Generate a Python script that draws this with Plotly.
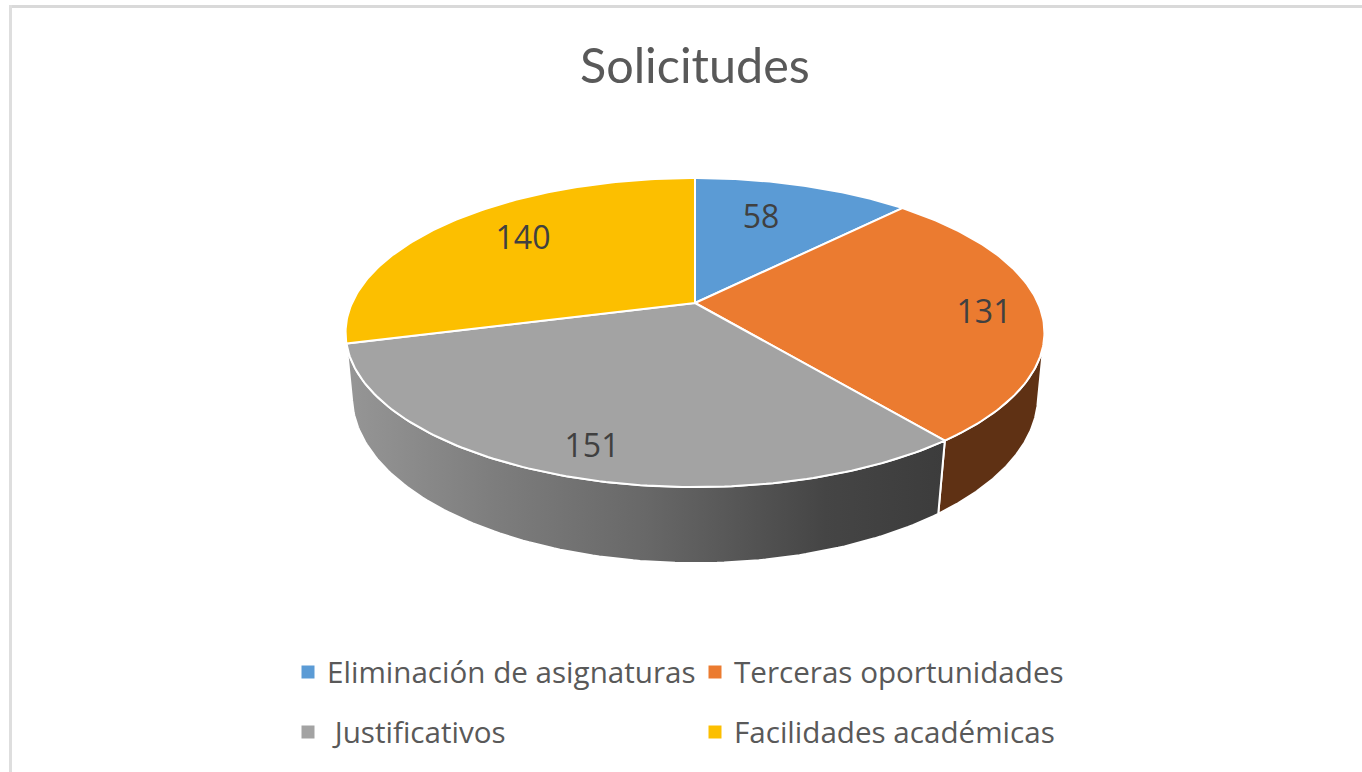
import numpy as np
import plotly.graph_objects as go

# Data
categories = ["Eliminación de asignaturas", "Terceras oportunidades", " Justificativos", "Facilidades académicas"]
values = [58, 131, 151, 140]
title_text = "Solicitudes"

# Styles
top_colors = ["#5B9BD5", "#EB7B30", "#A3A3A3", "#FCBF00"]
label_xy = [(761, 220), (984, 315), (592, 449), (523, 241)]
legend_swatch_xy = [(308, 672), (715, 672), (308, 732), (715, 732)]
legend_text_x = [325, 732, 325, 732]
legend_text_y = [671, 671, 731, 731]
FONT = "Open Sans, Noto Sans, sans-serif"
TITLE_FONT = "Lato, Carlito, Calibri, sans-serif"

# Projection of the pie's circle to the plot plane (perspective)
def top_disc(a):
    u, v = np.sin(a), np.cos(a)
    d = 1 + 0.191 * v
    return 695 + 343 * u / d, 303 - 148.9 * v / d

def bottom_disc(a):
    u, v = np.sin(a), np.cos(a)
    d = 1 + 0.18 * v
    return 695 + 337.4 * u / d, 366 - 161.6 * v / d

total = sum(values)
edges = np.radians(np.concatenate([[0], np.cumsum(values)]) / total * 360)

fig = go.Figure()

# Side walls
def wall(a0, a1, name, **style):
    a = np.linspace(a0, a1, 120)
    tx, ty = top_disc(a)
    bx, by = bottom_disc(a)
    fig.add_trace(go.Scatter(
        x=np.concatenate([tx, bx[::-1], tx[:1]]),
        y=np.concatenate([ty, by[::-1], ty[:1]]),
        mode="lines", fill="toself", line=dict(color="white", width=2),
        hoverinfo="skip", showlegend=False, name=name, **style))

wall(np.radians(102), edges[2], "Terceras oportunidades (lateral)", fillcolor="#5F3114")
wall(edges[2], np.radians(258), "Justificativos (lateral)",
     fillcolor="#808080",
     fillgradient=dict(type="horizontal", colorscale=[
         [0.0, "#969696"], [0.25, "#7D7D7D"], [0.5, "#686868"],
         [0.8, "#454545"], [1.0, "#3C3C3C"]]))

# Top slices
for i, (cat, val) in enumerate(zip(categories, values)):
    a = np.linspace(edges[i], edges[i + 1], 120)
    x, y = top_disc(a)
    cx, cy = 695, 303
    fig.add_trace(go.Scatter(
        x=np.concatenate([[cx], x, [cx]]),
        y=np.concatenate([[cy], y, [cy]]),
        mode="lines", fill="toself", fillcolor=top_colors[i],
        line=dict(color="white", width=2),
        name=cat.strip(), text=f"{cat.strip()}: {val}", hoverinfo="text",
        showlegend=False))

# Data labels
fig.add_trace(go.Scatter(
    x=[p[0] for p in label_xy], y=[p[1] for p in label_xy],
    mode="text", text=[str(v) for v in values],
    textfont=dict(family=FONT, size=32, color="#404040"),
    textposition="middle center", hoverinfo="skip", showlegend=False))

# Legend
fig.add_trace(go.Scatter(
    x=[p[0] for p in legend_swatch_xy], y=[p[1] for p in legend_swatch_xy],
    mode="markers",
    marker=dict(symbol="square", size=13, color=top_colors, line=dict(width=0)),
    hoverinfo="skip", showlegend=False))
annotations = [dict(
    x=tx, y=ty, xref="x", yref="y", text=c.replace(" ", "&nbsp;", 1) if c.startswith(" ") else c,
    showarrow=False, xanchor="left", yanchor="middle", align="left",
    font=dict(family=FONT, size=29.6, color="#595959"))
    for c, tx, ty in zip(categories, legend_text_x, legend_text_y)]

# Title
annotations.append(dict(
    x=695, y=64, xref="x", yref="y", text=title_text, showarrow=False,
    xanchor="center", yanchor="middle",
    font=dict(family=TITLE_FONT, size=48.5, color="#595959")))

fig.update_layout(
    width=1362, height=772, margin=dict(l=0, r=0, t=0, b=0),
    paper_bgcolor="white", plot_bgcolor="white", showlegend=False,
    xaxis=dict(range=[0, 1362], visible=False, fixedrange=True),
    yaxis=dict(range=[772, 0], visible=False, fixedrange=True),
    annotations=annotations,
    shapes=[
        dict(type="line", xref="x", yref="y", x0=9, x1=1362, y0=6.5, y1=6.5,
             line=dict(color="#D9D9D9", width=3), layer="below"),
        dict(type="line", xref="x", yref="y", x0=10.5, x1=10.5, y0=5, y1=772,
             line=dict(color="#DEDEDE", width=3), layer="below"),
    ],
)

fig.write_html("out.html", config=dict(displayModeBar=False),
               post_script="document.body.style.margin='0';document.body.style.overflow='hidden';")
